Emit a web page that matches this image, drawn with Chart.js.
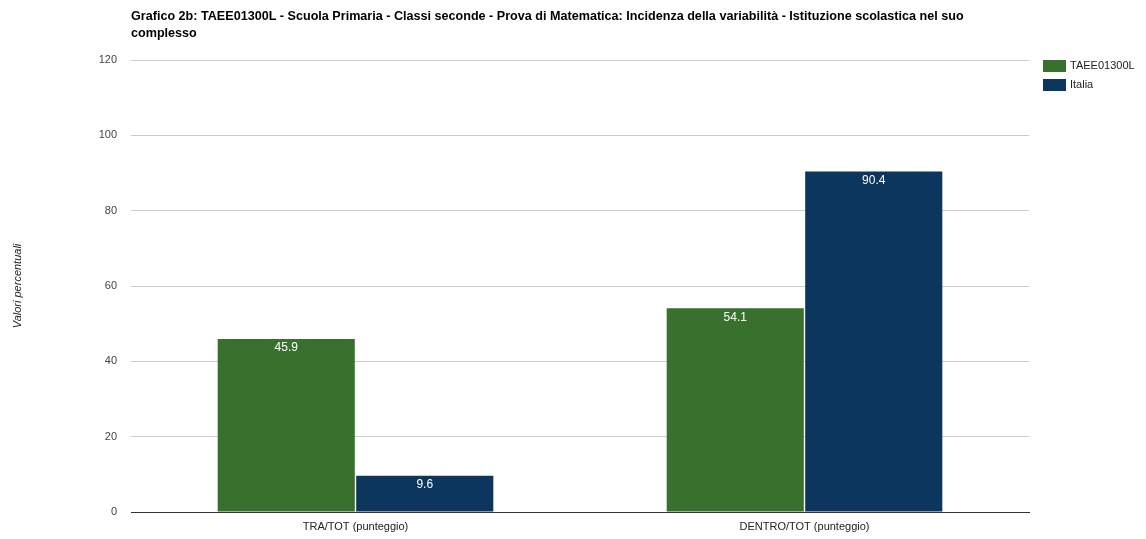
<!DOCTYPE html>
<html>
<head>
<meta charset="utf-8">
<script src="https://cdn.jsdelivr.net/npm/chart.js@4.4.1/dist/chart.umd.min.js"></script>
<style>
html,body{margin:0;padding:0;background:#fff;}
#wrap{width:1146px;height:539px;position:relative;}
</style>
</head>
<body>
<div id="wrap"><canvas id="c" width="1146" height="539"></canvas></div>
<script>
const categories = ["TRA/TOT (punteggio)", "DENTRO/TOT (punteggio)"];
const seriesNames = ["TAEE01300L", "Italia"];
const schoolValues = [45.9, 54.1];
const italiaValues = [9.6, 90.4];
const yTicks = [0, 20, 40, 60, 80, 100, 120];
const titleLines = [
  "Grafico 2b: TAEE01300L - Scuola Primaria - Classi seconde - Prova di Matematica: Incidenza della variabilità - Istituzione scolastica nel suo",
  "complesso"
];
const yTitle = "Valori percentuali";
const colors = ["#37712d", "#0c365e"];

const FONT = "'Liberation Sans', Arial, sans-serif";

const overlay = {
  id: 'overlay',
  afterDatasetsDraw(chart) {
    const ctx = chart.ctx;
    ctx.save();
    ctx.fillStyle = '#ffffff';
    ctx.font = '12px ' + FONT;
    ctx.textAlign = 'center';
    ctx.textBaseline = 'top';
    chart.data.datasets.forEach((ds, i) => {
      const meta = chart.getDatasetMeta(i);
      meta.data.forEach((bar, j) => {
        ctx.fillText(String(ds.data[j]), bar.x, bar.y + 3);
      });
    });
    ctx.restore();
  },
  afterDraw(chart) {
    const ctx = chart.ctx;
    ctx.save();
    ctx.fillStyle = '#000';
    ctx.font = 'bold 12.6px ' + FONT;
    ctx.textAlign = 'left';
    ctx.textBaseline = 'middle';
    titleLines.forEach((t, i) => ctx.fillText(t, 131, 17 + i * 17));
    ctx.font = '11px ' + FONT;
    chart.data.datasets.forEach((ds, i) => {
      const y = 66 + i * 19;
      ctx.fillStyle = ds.backgroundColor;
      ctx.fillRect(1043, y - 6, 23, 12);
      ctx.fillStyle = '#222';
      ctx.fillText(ds.label, 1070, y);
    });
    ctx.restore();
  }
};

new Chart(document.getElementById('c'), {
  type: 'bar',
  data: {
    labels: categories,
    datasets: [
      { label: seriesNames[0], data: schoolValues, backgroundColor: colors[0] },
      { label: seriesNames[1], data: italiaValues, backgroundColor: colors[1] }
    ]
  },
  options: {
    responsive: false,
    animation: false,
    devicePixelRatio: 1,
    layout: { padding: { left: 0, top: 60, right: 117, bottom: 0 } },
    datasets: { bar: { categoryPercentage: 0.617, barPercentage: 0.99, borderWidth: 0 } },
    plugins: { legend: { display: false }, title: { display: false }, tooltip: { enabled: false } },
    scales: {
      x: {
        afterFit(s) { s.height = 27; },
        grid: { display: false, drawTicks: false },
        border: { display: true, color: '#333', width: 1 },
        ticks: { color: '#222', font: { family: FONT, size: 11 }, padding: 8, maxRotation: 0 }
      },
      y: {
        min: 0, max: 120,
        afterFit(s) { s.width = 131; },
        afterBuildTicks(s) { s.ticks = yTicks.map(v => ({ value: v })); },
        grid: {
          drawTicks: false,
          color: ctx => (ctx.tick && ctx.tick.value === 0) ? '#333' : '#cccccc',
          lineWidth: 1
        },
        border: { display: false },
        ticks: { color: '#444', font: { family: FONT, size: 11 }, padding: 14 },
        title: {
          display: true, text: yTitle, color: '#222',
          font: { family: FONT, size: 11, style: 'italic' },
          padding: { top: 11, bottom: 0 }
        }
      }
    }
  },
  plugins: [overlay]
});
</script>
</body>
</html>
